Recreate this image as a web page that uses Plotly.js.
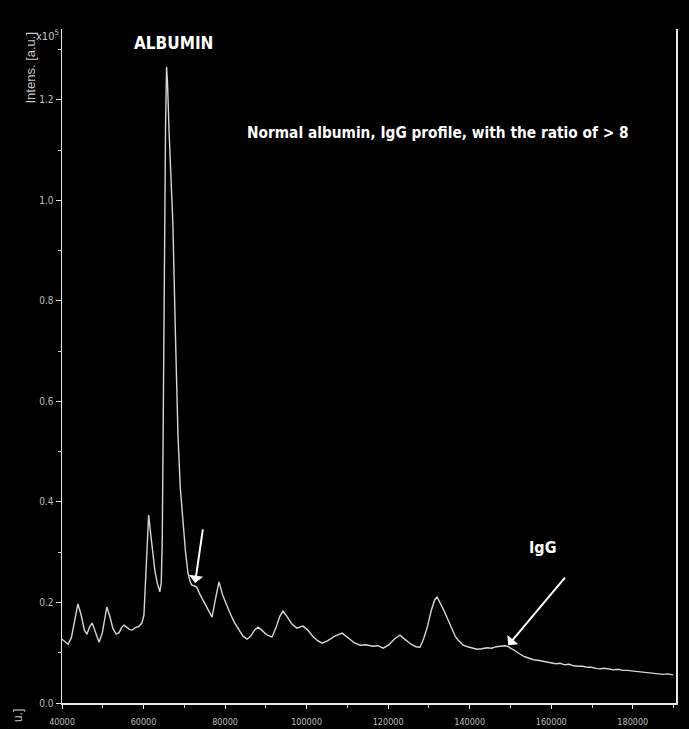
<!DOCTYPE html>
<html>
<head>
<meta charset="utf-8">
<script src="https://cdn.plot.ly/plotly-3.0.1.min.js"></script>
<style>html,body{margin:0;padding:0;background:#000;}#chart{width:689px;height:729px;}</style>
</head>
<body>
<div id="chart"></div>
<script>
// m/z values (Da)
var mz = [40000,40800,41500,42300,43200,43900,44700,45500,46100,46800,47400,48200,49100,49900,50500,51000,51800,52500,53300,54000,54600,55200,56000,56600,57200,58000,58800,59600,60100,60500,60900,61250,61700,62300,62800,63400,64000,64350,64600,64800,65000,65200,65400,65650,65900,66250,66700,67200,67800,68450,69000,69700,70300,70900,71400,71800,72400,73000,73900,74800,75800,76800,77600,78500,79400,80300,81200,82300,83400,84400,85400,86300,87200,88100,89000,90200,91500,92500,93400,94200,95200,96400,97600,98400,99100,100300,101500,102700,103800,105200,106900,108700,110200,111700,113100,114600,116100,117500,118800,120200,121600,122900,124200,125600,126800,127800,128700,129600,130600,131400,132000,132900,133800,134700,135700,136500,137200,138400,139500,140600,141800,143000,144200,145400,146500,147600,148600,149200,150200,151300,152400,153500,154600,155600,156700,157800,158900,160000,161100,162200,163300,164400,165500,166600,167700,168800,169900,171000,172000,173100,174200,175300,176400,177500,178600,179700,180800,181900,183000,184100,185200,186300,187400,188500,189900];
// intensities (x10^5 a.u.)
var intens = [0.127,0.122,0.117,0.130,0.170,0.197,0.175,0.145,0.137,0.152,0.159,0.140,0.121,0.140,0.172,0.191,0.170,0.148,0.137,0.140,0.150,0.155,0.150,0.146,0.145,0.150,0.152,0.159,0.175,0.250,0.340,0.374,0.340,0.290,0.262,0.238,0.221,0.240,0.330,0.530,0.800,0.980,1.150,1.266,1.230,1.140,1.040,0.951,0.740,0.533,0.430,0.358,0.300,0.259,0.242,0.235,0.233,0.231,0.215,0.201,0.185,0.171,0.205,0.241,0.215,0.195,0.179,0.160,0.145,0.133,0.127,0.133,0.145,0.151,0.145,0.136,0.131,0.150,0.172,0.183,0.172,0.157,0.149,0.152,0.153,0.145,0.133,0.124,0.119,0.124,0.133,0.139,0.130,0.120,0.115,0.116,0.113,0.114,0.109,0.116,0.128,0.135,0.126,0.117,0.112,0.111,0.128,0.151,0.185,0.205,0.211,0.198,0.182,0.165,0.145,0.132,0.125,0.115,0.112,0.109,0.107,0.108,0.110,0.109,0.112,0.113,0.114,0.113,0.109,0.103,0.097,0.092,0.089,0.086,0.085,0.083,0.081,0.080,0.078,0.079,0.076,0.077,0.074,0.073,0.073,0.071,0.071,0.069,0.068,0.069,0.067,0.066,0.067,0.065,0.065,0.064,0.063,0.063,0.061,0.061,0.059,0.059,0.057,0.058,0.056];

var yTicks = [0.0,0.2,0.4,0.6,0.8,1.0,1.2];
var yTickText = ["0.0","0.2","0.4","0.6","0.8","1.0","1.2"];
var xTicks = [40000,60000,80000,100000,120000,140000,160000,180000];
var xTickText = ["40000","60000","80000","100000","120000","140000","160000","180000"];

var narrow = '"DejaVu Sans Condensed", "Liberation Sans Narrow", sans-serif';

var trace = {
  x: mz, y: intens, type: 'scatter', mode: 'lines',
  line: {color: '#d6d6d6', width: 1.4},
  hoverinfo: 'skip'
};

var layout = {
  width: 689, height: 729, autosize: false,
  paper_bgcolor: '#000', plot_bgcolor: '#000',
  margin: {l: 62, r: 13, t: 29, b: 26, pad: 0},
  showlegend: false,
  xaxis: {
    range: [40000, 190600], showgrid: false, zeroline: false,
    showline: true, linecolor: '#e8e8e8', linewidth: 1.5, mirror: false,
    tickmode: 'array', tickvals: xTicks, ticktext: xTickText,
    ticks: 'outside', ticklen: 4, tickwidth: 1, tickcolor: '#e8e8e8',
    ticklabelstandoff: 6,
    minor: {dtick: 10000, tick0: 40000, ticks: 'outside', ticklen: 3, tickcolor: '#cfcfcf'},
    tickfont: {family: narrow, size: 9, color: '#bdbdbd'}
  },
  yaxis: {
    range: [0, 1.341], showgrid: false, zeroline: false,
    showline: true, linecolor: '#e8e8e8', linewidth: 1.5, mirror: true,
    tickmode: 'array', tickvals: yTicks, ticktext: yTickText,
    ticks: 'outside', ticklen: 5, tickwidth: 1, tickcolor: '#e8e8e8',
    minor: {dtick: 0.1, tick0: 0, ticks: 'outside', ticklen: 3, tickcolor: '#cfcfcf'},
    tickfont: {family: narrow, size: 10, color: '#bdbdbd'}
  },
  annotations: [
    {text: 'ALBUMIN', xref: 'paper', yref: 'paper', x: 0.1816, y: 0.979, xanchor: 'center', yanchor: 'middle', showarrow: false,
     font: {family: narrow, size: 17, color: '#ffffff', weight: 'bold'}},
    {text: 'Normal albumin, IgG profile, with the ratio of > 8', xref: 'paper', yref: 'paper', x: 0.612, y: 0.846, xanchor: 'center', yanchor: 'middle', showarrow: false,
     font: {family: narrow, size: 15.3, color: '#ffffff', weight: 'bold'}},
    {text: 'IgG', xref: 'paper', yref: 'paper', x: 0.783, y: 0.230, xanchor: 'center', yanchor: 'middle', showarrow: false,
     font: {family: narrow, size: 16, color: '#ffffff', weight: 'bold'}},
    {text: 'Intens. [a.u.]', xref: 'paper', yref: 'paper', x: -0.052, y: 0.943, xanchor: 'center', yanchor: 'middle', textangle: -90, showarrow: false,
     font: {family: 'Liberation Sans, Arial, sans-serif', size: 13, color: '#c8c8c8'}},
    {text: 'x10<sup>5</sup>', xref: 'paper', yref: 'paper', x: -0.024, y: 0.99, xanchor: 'center', yanchor: 'middle', showarrow: false,
     font: {family: narrow, size: 11, color: '#c8c8c8'}},
    {text: 'u.]', xref: 'paper', yref: 'paper', x: -0.0717, y: -0.018, xanchor: 'center', yanchor: 'middle', textangle: -90, showarrow: false,
     font: {family: 'Liberation Sans, Arial, sans-serif', size: 12, color: '#c8c8c8'}},
    {text: '', x: 72638, y: 0.239, xref: 'x', yref: 'y', showarrow: true, ax: 8, ay: -55, axref: 'pixel', ayref: 'pixel',
     arrowcolor: '#ffffff', arrowwidth: 2, arrowhead: 1, arrowsize: 1.2, standoff: 0},
    {text: '', x: 149448, y: 0.115, xref: 'x', yref: 'y', showarrow: true, ax: 58, ay: -69, axref: 'pixel', ayref: 'pixel',
     arrowcolor: '#ffffff', arrowwidth: 2, arrowhead: 1, arrowsize: 1.2, standoff: 0}
  ]
};

Plotly.newPlot('chart', [trace], layout, {displayModeBar: false, staticPlot: true});
</script>
</body>
</html>
